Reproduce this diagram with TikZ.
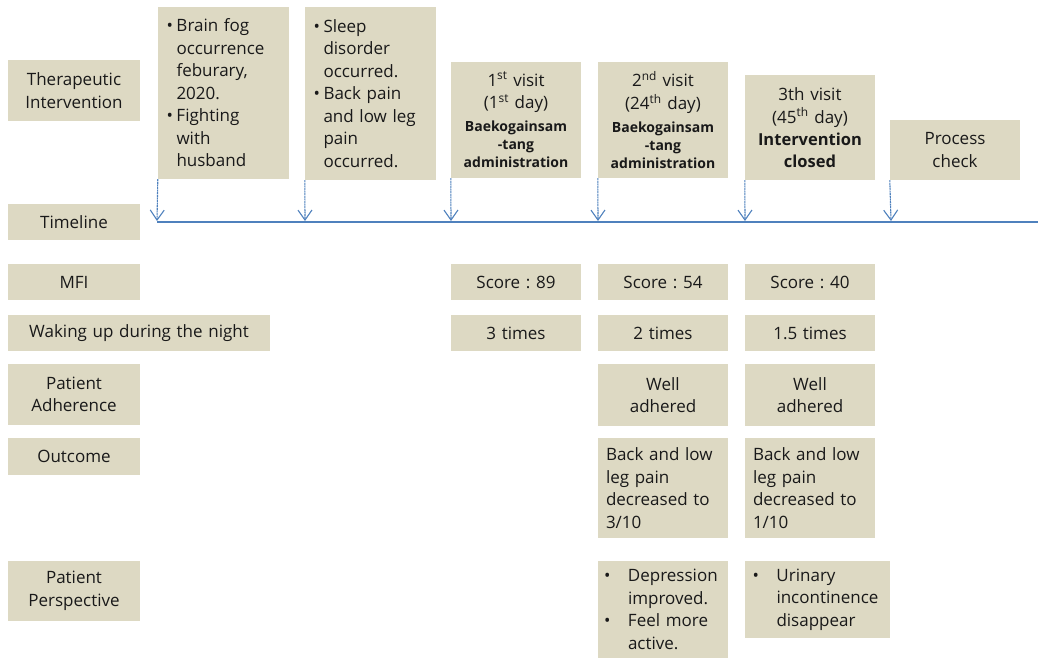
\documentclass[tikz,border=0pt]{standalone}
\usepackage{fontspec}
\setmainfont{Open Sans}
\usetikzlibrary{arrows.meta}
\definecolor{boxc}{HTML}{DDD9C3}
\definecolor{linec}{HTML}{4F81BD}
\frenchspacing
\newcommand{\bl}[1]{\makebox[10pt][l]{\textbullet}#1}
\newcommand{\nb}[1]{\hspace*{10pt}#1}
\newcommand{\bla}[1]{\makebox[24pt][l]{\textbullet}#1}
\newcommand{\nba}[1]{\hspace*{24pt}#1}
\newcommand{\bx}[7][]{%
  \node[box, minimum width={(#5-#3)*1pt}, minimum height={(#6-#4)*1pt},
        text width={(#5-#3-14)*1pt}, #1] (#2) at ({(#3+#5)/2},{(#4+#6)/2}) {#7};}
\tikzset{
  box/.style={fill=boxc, inner sep=0pt, align=center,
              font=\fontsize{17}{22.5}\selectfont, text=black!90},
  arr/.style={draw=linec, line width=1.1pt, dash pattern=on 2pt off 0.6pt,
              -{Straight Barb[length=10pt,width=14pt,line width=1.1pt]}},
  tline/.style={draw=linec, line width=1.8pt}
}
\begin{document}
\begin{tikzpicture}[x=1pt,y=-1pt]
\useasboundingbox (0,0) rectangle (1038,658);
% left labels
\bx{lti}{8}{60}{140}{121}{Therapeutic\\Intervention}
\bx{ltl}{8}{204}{140}{240}{Timeline}
\bx{lmfi}{8}{264}{140}{300}{MFI}
\bx[text width=260pt]{lwake}{8}{315}{270}{351}{Waking up during the night}
\bx{ladh}{8}{364}{140}{425}{Patient\\Adherence}
\bx{lout}{8}{438}{140}{475}{Outcome}
\bx{lper}{8}{561}{140}{621}{Patient\\Perspective}
% top boxes
\bx[align=left, text width=114pt]{b1}{158}{7}{289}{179}{\bl{Brain fog}\\\nb{occurrence}\\\nb{feburary,}\\\nb{2020.}\\\bl{Fighting}\\\nb{with}\\\nb{husband}}
\bx[align=left, text width=114pt]{b2}{305}{7}{436}{180}{\bl{Sleep}\\\nb{disorder}\\\nb{occurred.}\\\bl{Back pain}\\\nb{and low leg}\\\nb{pain}\\\nb{occurred.}}
\bx{b3}{451}{62}{581}{178}{1\textsuperscript{st} visit\\(1\textsuperscript{st} day)\\[5pt]{\fontsize{14}{18}\selectfont\bfseries Baekogainsam\\-tang\\administration\par}}
\bx{b4}{598}{62}{728}{178}{2\textsuperscript{nd} visit\\(24\textsuperscript{th} day)\\[5pt]{\fontsize{14}{18}\selectfont\bfseries Baekogainsam\\-tang\\administration\par}}
\bx{b5}{745}{75}{875}{180}{3th visit\\(45\textsuperscript{th} day)\\{\fontsize{16.5}{22}\selectfont\bfseries Intervention\\closed\par}}
\bx{b6}{890}{120}{1020}{180}{Process\\check}
% timeline
\coordinate (ts) at (157,222);
\coordinate (te) at (1038,222);
\coordinate (t1) at (157,221);
\coordinate (t2) at (305,221);
\coordinate (t3) at (451,221);
\coordinate (t4) at (598,221);
\coordinate (t5) at (745,221);
\coordinate (t6) at (891,221);
\draw[tline] (ts) -- (te);
\draw[arr] (b1.south west) -- (t1);
\draw[arr] (b2.south west) -- (t2);
\draw[arr] (b3.south west) -- (t3);
\draw[arr] (b4.south west) -- (t4);
\draw[arr] (b5.south west) -- (t5);
\draw[arr] (b6.south west) -- (t6);
% MFI
\bx{m1}{451}{264}{581}{300}{Score : 89}
\bx{m2}{598}{264}{728}{300}{Score : 54}
\bx{m3}{745}{264}{875}{300}{Score : 40}
% waking
\bx{w1}{451}{315}{581}{351}{3 times}
\bx{w2}{598}{315}{728}{351}{2 times}
\bx{w3}{745}{315}{875}{351}{1.5 times}
% adherence
\bx{a1}{598}{364}{728}{426}{Well\\adhered}
\bx{a2}{745}{364}{875}{426}{Well\\adhered}
% outcome
\bx[align=left, text width=114pt]{o1}{598}{438}{728}{538}{Back and low\\leg pain\\decreased to\\3/10}
\bx[align=left, text width=114pt]{o2}{745}{438}{875}{538}{Back and low\\leg pain\\decreased to\\1/10}
% perspective
\bx[align=left, text width=118pt]{p1}{598}{561}{728}{658}{\bla{Depression}\\\nba{improved.}\\\bla{Feel more}\\\nba{active.}}
\bx[align=left, text width=130pt]{p2}{745}{561}{890}{638}{\bla{Urinary}\\\nba{incontinence}\\\nba{disappear}}
\end{tikzpicture}
\end{document}
